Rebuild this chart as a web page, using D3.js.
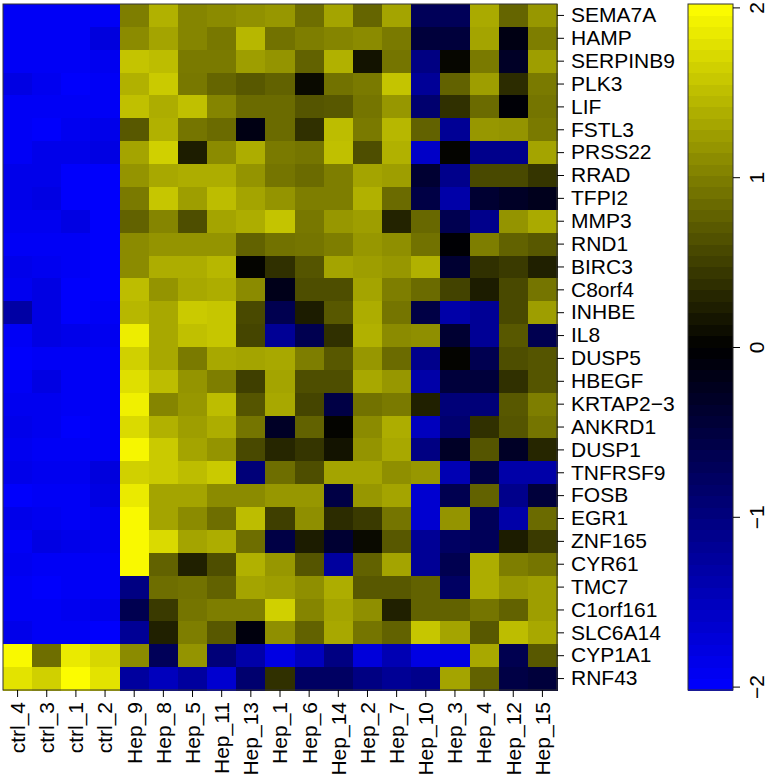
<!DOCTYPE html>
<html>
<head>
<meta charset="utf-8">
<script src="https://cdn.jsdelivr.net/npm/d3@7"></script>
<style>
  body { margin: 0; background: #fff; }
  svg { display: block; font-family: "Liberation Sans", Arial, sans-serif; }
</style>
</head>
<body>
<div id="chart"></div>
<script>
// Sample columns (left to right) and genes (top to bottom)
const samples = ["ctrl_4", "ctrl_3", "ctrl_1", "ctrl_2", "Hep_9", "Hep_8", "Hep_5", "Hep_11", "Hep_13",
  "Hep_1", "Hep_6", "Hep_14", "Hep_2", "Hep_7", "Hep_10", "Hep_3", "Hep_4", "Hep_12", "Hep_15"];

const genes = ["SEMA7A", "HAMP", "SERPINB9", "PLK3", "LIF", "FSTL3", "PRSS22", "RRAD", "TFPI2", "MMP3",
  "RND1", "BIRC3", "C8orf4", "INHBE", "IL8", "DUSP5", "HBEGF", "KRTAP2\u22123", "ANKRD1", "DUSP1",
  "TNFRSF9", "FOSB", "EGR1", "ZNF165", "CYR61", "TMC7", "C1orf161", "SLC6A14", "CYP1A1", "RNF43"];

// scaled expression, one row per gene, one value per sample
const expr = [
  [-1.95, -1.95, -1.95, -1.95, 1.0, 1.4, 1.05, 1.1, 1.15, 1.2, 0.87, 1.3, 0.8, 1.3, -0.7, -0.7, 1.35, 0.8, 1.2],
  [-1.95, -1.95, -1.95, -1.75, 1.1, 1.3, 1.05, 0.95, 1.45, 0.9, 1.0, 1.05, 1.1, 0.97, -0.47, -0.47, 1.3, -0.15, 1.0],
  [-1.95, -1.95, -1.95, -1.9, 1.55, 1.5, 0.97, 0.97, 1.25, 1.17, 0.78, 1.4, 0.15, 0.93, -1.03, 0.05, 0.97, -0.3, 1.25],
  [-1.8, -1.9, -2.0, -1.95, 1.4, 1.6, 0.95, 0.8, 0.7, 0.78, 0.08, 0.9, 0.97, 1.55, -1.2, 0.78, 1.25, 0.35, 0.97],
  [-1.95, -1.95, -1.95, -1.95, 1.52, 1.37, 1.52, 1.05, 0.85, 0.85, 0.67, 0.7, 0.93, 1.2, -0.87, 0.38, 0.85, -0.05, 0.93],
  [-1.95, -2.0, -1.9, -1.85, 0.7, 1.4, 0.93, 0.85, -0.15, 0.85, 0.38, 1.5, 0.97, 1.45, 0.78, -1.18, 1.2, 1.17, 0.97],
  [-1.95, -1.85, -1.85, -1.8, 1.3, 1.65, 0.23, 1.1, 1.37, 0.97, 0.93, 1.52, 0.62, 1.4, -1.58, 0.03, -1.1, -1.1, 1.3],
  [-1.85, -1.85, -2.0, -2.0, 1.17, 1.33, 1.37, 1.37, 1.17, 0.93, 0.85, 1.0, 1.3, 1.25, -0.4, -1.1, 0.58, 0.58, 0.42],
  [-1.85, -1.8, -2.0, -2.0, 0.97, 1.57, 1.25, 1.5, 1.3, 1.17, 1.0, 1.0, 1.4, 0.85, -0.55, -1.33, -0.4, -0.3, -0.22],
  [-1.9, -1.9, -1.8, -2.0, 0.78, 1.05, 0.62, 1.3, 1.37, 1.55, 0.95, 1.2, 1.25, 0.28, 0.82, -0.63, -1.1, 1.17, 1.35],
  [-1.95, -1.95, -1.95, -2.0, 1.1, 1.17, 1.17, 1.17, 0.78, 0.9, 0.93, 1.0, 1.2, 1.13, 0.9, -0.03, 1.0, 0.78, 0.7],
  [-1.85, -1.9, -1.95, -2.0, 1.1, 1.37, 1.37, 1.45, 0.03, 0.38, 0.67, 1.3, 1.25, 1.2, 1.4, -0.4, 0.38, 0.46, 0.25],
  [-1.9, -1.8, -2.0, -2.0, 1.5, 1.17, 1.33, 1.37, 1.1, -0.2, 0.62, 0.62, 1.3, 1.0, 0.85, 0.53, 0.22, 0.58, 0.93],
  [-1.3, -1.8, -2.0, -1.95, 1.45, 1.33, 1.6, 1.57, 0.58, -0.63, 0.22, 0.7, 1.37, 0.93, -0.55, -1.33, -1.18, 0.58, 1.25],
  [-1.95, -1.8, -1.85, -1.9, 1.88, 1.33, 1.52, 1.57, 0.55, -1.18, -0.63, 0.38, 1.4, 1.1, 1.13, -0.4, -1.18, 0.7, -0.63],
  [-2.0, -1.95, -1.95, -1.95, 1.65, 1.33, 0.97, 1.33, 1.3, 1.33, 1.0, 0.7, 1.2, 0.85, -1.1, 0.03, -0.63, 0.62, 0.67],
  [-1.95, -1.8, -1.95, -1.95, 1.77, 1.5, 1.17, 1.0, 0.5, 1.3, 0.62, 0.62, 1.33, 1.2, -1.33, -0.47, -0.47, 0.38, 0.67],
  [-1.9, -1.9, -1.95, -1.95, 1.9, 1.05, 1.2, 1.5, 0.67, 1.33, 0.55, -0.55, 0.9, 0.97, 0.25, -0.95, -0.95, 0.7, 1.0],
  [-1.85, -1.9, -2.0, -1.95, 1.73, 1.4, 1.25, 1.37, 0.93, -0.3, 0.78, 0.03, 1.1, 1.37, -1.5, -0.87, 0.38, 0.67, 0.93],
  [-1.9, -1.95, -1.95, -1.95, 1.95, 1.6, 1.3, 1.17, 0.58, 0.3, 0.42, 0.15, 1.17, 1.33, -1.03, -0.3, 0.67, -0.3, 0.3],
  [-1.85, -1.9, -1.9, -1.75, 1.65, 1.6, 1.5, 1.6, -0.95, 0.87, 0.62, 1.3, 1.3, 1.13, 1.2, -1.42, -0.55, -1.33, -1.33],
  [-2.0, -1.95, -1.95, -1.8, 1.85, 1.3, 1.3, 1.1, 1.1, 1.2, 1.2, -0.55, 1.2, 1.3, -1.65, -0.63, 0.78, -1.1, -0.47],
  [-1.85, -1.9, -1.95, -1.9, 1.97, 1.3, 1.1, 0.87, 1.5, 0.5, 1.13, 0.35, 0.46, 0.93, -1.65, 1.17, -0.7, -1.33, 0.85],
  [-1.95, -1.8, -1.85, -1.9, 1.97, 1.73, 1.3, 1.37, 0.87, -0.55, 0.22, -0.4, 0.08, 0.7, -1.18, -0.78, -0.7, 0.22, 0.46],
  [-1.9, -1.95, -1.95, -1.95, 1.97, 0.78, 0.25, 0.62, 1.4, 1.2, 0.67, -1.25, 0.78, 1.3, -1.18, -0.63, 1.37, 1.0, 0.93],
  [-1.95, -2.0, -1.95, -1.95, -1.03, 0.87, 0.9, 0.78, 1.3, 1.25, 1.13, 1.37, 0.7, 0.7, 0.78, -0.78, 1.37, 1.2, 1.25],
  [-1.95, -1.95, -1.9, -1.85, -0.63, 0.46, 0.93, 1.0, 1.0, 1.65, 1.05, 1.3, 1.13, 0.25, 0.78, 0.78, 0.93, 0.78, 1.25],
  [-1.85, -1.95, -1.95, -2.0, -1.18, 0.25, 1.0, 0.7, -0.1, 1.13, 0.78, 1.33, 0.93, 0.78, 1.57, 1.3, 0.7, 1.5, 1.33],
  [1.97, 0.87, 1.85, 1.7, 1.1, -0.7, 1.17, -0.95, -1.33, -1.8, -1.5, -1.03, -1.73, -1.42, -1.8, -1.8, 1.33, -0.63, 0.7],
  [1.8, 1.65, 2.0, 1.8, -1.25, -1.5, -1.25, -1.65, -0.87, 0.38, -0.78, -0.78, -1.03, -1.18, -1.1, 1.3, 0.78, -0.55, -0.47]
];

const keyTicks = [-2, -1, 0, 1, 2];
const keyRange = [-2.02, 2.02];

const width = 768;
const height = 779;

const svg = d3.select("#chart")
  .append("svg")
  .attr("width", width)
  .attr("height", height);

// blue - black - yellow ramp
const color = d3.scaleLinear()
  .domain([keyRange[0], 0, keyRange[1]])
  .range(["#0000ff", "#000000", "#ffff00"]);

const x = d3.scaleBand().domain(samples).range([3, 557]);
const y = d3.scaleBand().domain(genes).range([4, 690]);

// heatmap cells
const cells = [];
expr.forEach((row, i) => row.forEach((v, j) => cells.push({ gene: genes[i], sample: samples[j], v })));

svg.append("g")
  .attr("shape-rendering", "crispEdges")
  .selectAll("rect")
  .data(cells)
  .join("rect")
  .attr("x", d => x(d.sample))
  .attr("y", d => y(d.gene))
  .attr("width", x.bandwidth() + 0.5)
  .attr("height", y.bandwidth() + 0.5)
  .attr("fill", d => color(d.v));

svg.append("rect")
  .attr("x", 3).attr("y", 4)
  .attr("width", 554).attr("height", 686)
  .attr("fill", "none")
  .attr("stroke", "#333")
  .attr("stroke-width", 1);

// gene labels on the right
const yAxis = svg.append("g")
  .attr("transform", "translate(557,0)")
  .call(d3.axisRight(y).tickSize(7).tickPadding(7));
yAxis.select(".domain").remove();
yAxis.selectAll("text")
  .attr("font-size", 21)
  .attr("fill", "#000")
  .attr("font-family", "Liberation Sans, Arial, sans-serif");

// sample labels at the bottom, rotated
const xAxis = svg.append("g")
  .attr("transform", "translate(0,690)")
  .call(d3.axisBottom(x).tickSize(7).tickPadding(5));
xAxis.select(".domain").remove();
xAxis.selectAll("text")
  .attr("font-size", 21)
  .attr("fill", "#000")
  .attr("font-family", "Liberation Sans, Arial, sans-serif")
  .attr("transform", "rotate(-90)")
  .attr("text-anchor", "end")
  .attr("x", -12)
  .attr("y", 0)
  .attr("dy", "0.35em");

// colour key
const keyY = d3.scaleLinear().domain(keyRange).range([690, 4]);
const nBands = 60;
const bandStep = (keyRange[1] - keyRange[0]) / nBands;
const bands = d3.range(nBands).map(i => keyRange[0] + i * bandStep);

svg.append("g")
  .attr("shape-rendering", "crispEdges")
  .selectAll("rect")
  .data(bands)
  .join("rect")
  .attr("x", 688)
  .attr("y", d => keyY(d + bandStep))
  .attr("width", 45)
  .attr("height", d => keyY(d) - keyY(d + bandStep) + 0.5)
  .attr("fill", d => color(d + bandStep / 2));

svg.append("rect")
  .attr("x", 688).attr("y", 4)
  .attr("width", 45).attr("height", 686)
  .attr("fill", "none")
  .attr("stroke", "#333")
  .attr("stroke-width", 1);

const keyAxis = svg.append("g")
  .attr("transform", "translate(733,0)")
  .call(d3.axisRight(keyY).tickValues(keyTicks).tickSize(7).tickFormat(d => d < 0 ? "\u2212" + Math.abs(d) : d));
keyAxis.select(".domain").remove();
// labels run along the key, reading bottom to top
keyAxis.selectAll("text")
  .attr("font-size", 21)
  .attr("fill", "#000")
  .attr("font-family", "Liberation Sans, Arial, sans-serif")
  .attr("transform", "rotate(-90)")
  .attr("x", 0)
  .attr("y", 24)
  .attr("dy", "0.35em")
  .attr("text-anchor", "middle");
</script>
</body>
</html>
